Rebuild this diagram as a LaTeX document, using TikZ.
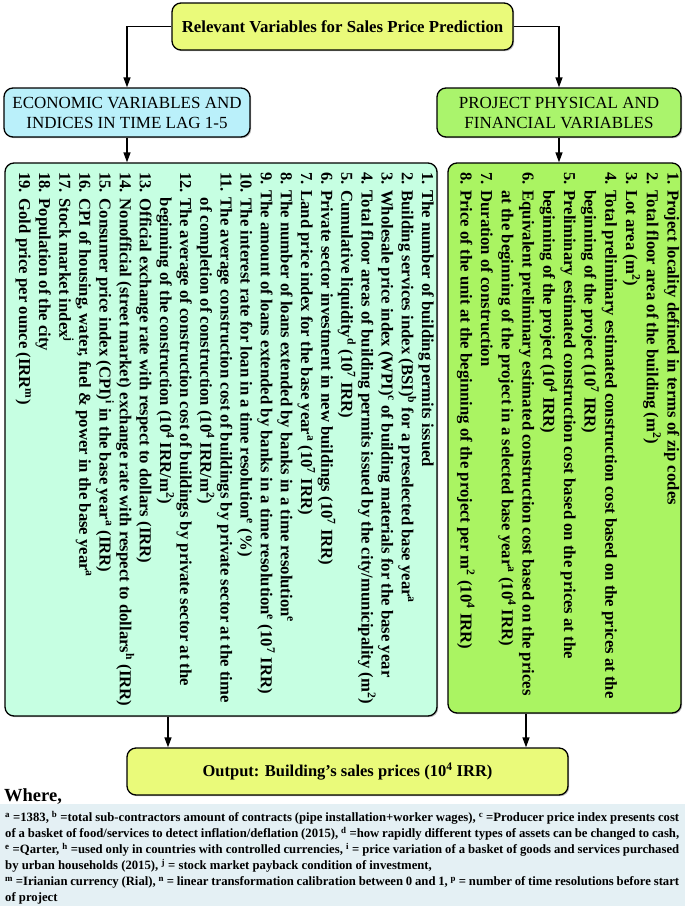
\documentclass[tikz,border=0pt]{standalone}
\usepackage{fontspec}
\setmainfont{Liberation Serif}
\usetikzlibrary{shadows,arrows.meta}
\definecolor{topyel}{RGB}{234,250,122}
\definecolor{econcyan}{RGB}{186,240,250}
\definecolor{projgreen}{RGB}{170,244,108}
\definecolor{mintbg}{RGB}{198,255,226}
\definecolor{limebg}{RGB}{170,244,98}
\definecolor{notebg}{RGB}{228,240,244}
\newcommand{\sps}[1]{\textsuperscript{#1}}
\newcommand{\fullline}[1]{\hbox to 674pt{#1}}
\tikzset{
  box/.style={draw=black, line width=1.3pt, rounded corners=9pt, inner sep=0pt,
    drop shadow={shadow xshift=1.2pt, shadow yshift=-1.2pt, fill=black!55}},
  conn/.style={draw=black, line width=1.3pt, -{Triangle[length=10pt,width=7pt]}},
  listtxt/.style={rotate=-90, anchor=north west, inner sep=0pt, align=left,
    font=\bfseries\fontsize{16.7}{20.15}\selectfont},
}
\begin{document}
\begin{tikzpicture}[x=1pt,y=-1pt]
\useasboundingbox (0,0) rectangle (685,906);
\fill[white] (0,0) rectangle (685,906);
% boxes
\node[box, fill=topyel, minimum width=341pt, minimum height=47pt,
  font=\bfseries\fontsize{16.8}{19}\selectfont] (top) at (342.5,26.5)
  {Relevant Variables for Sales Price Prediction};
\node[box, fill=econcyan, minimum width=246pt, minimum height=49pt, align=center,
  font=\fontsize{17}{20}\selectfont] (econ) at (127,112.5)
  {ECONOMIC VARIABLES AND\\INDICES IN TIME LAG 1-5};
\node[box, fill=projgreen, minimum width=244pt, minimum height=49pt, align=center,
  font=\fontsize{17}{20}\selectfont] (proj) at (559,112.5)
  {PROJECT PHYSICAL AND\\FINANCIAL VARIABLES};
\node[box, fill=mintbg, minimum width=432pt, minimum height=553pt] (leftlist) at (221,439.5) {};
\node[box, fill=limebg, minimum width=233pt, minimum height=550pt] (rightlist) at (564.5,438) {};
\node[box, fill=topyel, minimum width=441pt, minimum height=47pt,
  font=\bfseries\fontsize{16.5}{19}\selectfont] (output) at (347.5,771.5)
  {Output: Building’s sales prices (10\sps{4} IRR)};
% list texts
\node[listtxt] (lefttxt) at (434,172) {%
1. The number of building permits issued\\
2. Building services index (BSI)\sps{b} for a preselected base year\sps{a}\\
3. Wholesale price index (WPI)\sps{c} of building materials for the base year\\
4. Total floor areas of building permits issued by the city/municipality (m\sps{2})\\
5. Cumulative liquidity\sps{d} (10\sps{7} IRR)\\
6. Private sector investment in new buildings (10\sps{7} IRR)\\
7. Land price index for the base year\sps{a} (10\sps{7} IRR)\\
8. The number of loans extended by banks in a time resolution\sps{e}\\
9. The amount of loans extended by banks in a time resolution\sps{e} (10\sps{7} IRR)\\
10. The interest rate for loan in a time resolution\sps{e} (\%)\\
11. The average construction cost of buildings by private sector at the time\\
\phantom{11. }of completion of construction (10\sps{4} IRR/m\sps{2})\\
12. The average of construction cost of buildings by private sector at the\\
\phantom{11. }beginning of the construction (10\sps{4} IRR/m\sps{2})\\
13. Official exchange rate with respect to dollars (IRR)\\
14. Nonofficial (street market) exchange rate with respect to dollars\sps{h} (IRR)\\
15. Consumer price index (CPI)\sps{i} in the base year\sps{a} (IRR)\\
16. CPI of housing, water, fuel \& power in the base year\sps{a}\\
17. Stock market index\sps{j}\\
18. Population of the city\\
19. Gold price per ounce (IRR\sps{m})};
\node[listtxt, font=\bfseries\fontsize{16.7}{20.7}\selectfont] (righttxt) at (679.5,172) {%
1. Project locality defined in terms of zip codes\\
2. Total floor area of the building (m\sps{2})\\
3. Lot area (m\sps{2})\\
4. Total preliminary estimated construction cost based on the prices at the\\
\phantom{4. }beginning of the project (10\sps{7} IRR)\\
5. Preliminary estimated construction cost based on the prices at the\\
\phantom{4. }beginning of the project (10\sps{4} IRR)\\
6. Equivalent preliminary estimated construction cost based on the prices\\
\phantom{4. }at the beginning of the project in a selected base year\sps{a} (10\sps{4} IRR)\\
7. Duration of construction\\
8. Price of the unit at the beginning of the project per m\sps{2} (10\sps{4} IRR)};
% connectors
\draw[conn] (top.west) -| (econ.north);
\draw[conn] (top.east) -| (proj.north);
\draw[conn] (econ.south) -- (econ.south |- leftlist.north);
\draw[conn] (proj.south) -- (proj.south |- rightlist.north);
\path (leftlist.south) ++(-53,0) coordinate (la);
\path (rightlist.south) ++(-38.5,0) coordinate (ra);
\draw[conn] (la) -- (la |- output.north);
\draw[conn] (ra) -- (ra |- output.north);
% notes
\node[anchor=west, inner sep=0pt, font=\bfseries\fontsize{18.5}{20}\selectfont] (where) at (4,797) {Where,};
\fill[notebg] (0,804) rectangle (685,906);
\node[anchor=north west, inner sep=0pt, align=left,
  font=\bfseries\fontsize{12.7}{16}\selectfont] (notes) at (5,811) {%
\fullline{\sps{a} =1383, \sps{b} =total sub-contractors amount of contracts (pipe installation+worker wages), \sps{c} =Producer price index presents cost}\\
\fullline{of a basket of food/services to detect inflation/deflation (2015), \sps{d} =how rapidly different types of assets can be changed to cash,}\\
\fullline{\sps{e} =Qarter, \sps{h} =used only in countries with controlled currencies, \sps{i} = price variation of a basket of goods and services purchased}\\
by urban households (2015), \sps{j} = stock market payback condition of investment,\\
\fullline{\sps{m} =Irianian currency (Rial), \sps{n} = linear transformation calibration between 0 and 1, \sps{p} = number of time resolutions before start}\\
of project};
\end{tikzpicture}
\end{document}
